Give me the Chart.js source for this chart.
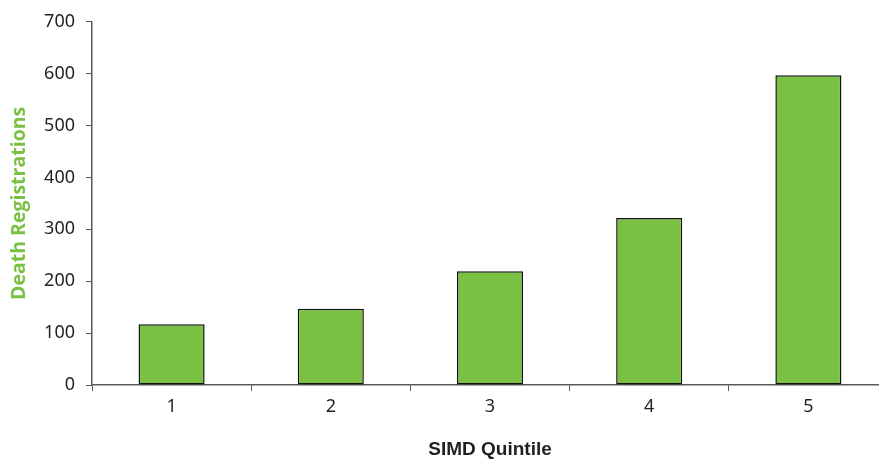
<!DOCTYPE html>
<html>
<head>
<meta charset="utf-8">
<script src="https://cdn.jsdelivr.net/npm/chart.js@4/dist/chart.umd.min.js"></script>
<style>
  html, body { margin: 0; padding: 0; background: #fff; overflow: hidden; }
  #wrap { width: 888px; height: 461px; position: relative; }
</style>
</head>
<body>
<div id="wrap"><canvas id="chart"></canvas></div>
<script>
  // Data
  const quintiles = ['1', '2', '3', '4', '5'];
  const deaths    = [117, 147, 219, 322, 597];
  const yTicks    = [0, 100, 200, 300, 400, 500, 600, 700];

  const AXIS = '#5a5a5a';
  const TEXT = '#231f20';
  const GREEN = '#7ac143';

  new Chart(document.getElementById('chart').getContext('2d'), {
    type: 'bar',
    data: {
      labels: quintiles,
      datasets: [{
        data: deaths,
        backgroundColor: GREEN,
        borderColor: '#111',
        borderWidth: 1.5,
        borderSkipped: false,
        categoryPercentage: 0.415,
        barPercentage: 1.0,
      }],
    },
    options: {
      responsive: true,
      maintainAspectRatio: false,
      animation: false,
      layout: { padding: { top: 21, right: 0, left: 0, bottom: 0 } },
      plugins: { legend: { display: false }, tooltip: { enabled: false } },
      scales: {
        x: {
          offset: true,
          grid: {
            offset: true,
            drawOnChartArea: false,
            drawTicks: true,
            tickLength: 6,
            color: AXIS,
            lineWidth: 1,
          },
          border: { color: AXIS, width: 1.5 },
          ticks: { color: TEXT, font: { family: 'Noto Sans', size: 18 }, padding: 5 },
          title: {
            display: true,
            text: 'SIMD Quintile',
            color: TEXT,
            font: { family: 'Liberation Sans', size: 19, weight: 'bold' },
            padding: { top: 14, bottom: 0 },
          },
          afterFit: function(s) { s.height = 76; },
        },
        y: {
          min: 0,
          max: 700,
          afterBuildTicks: function(s) { s.ticks = yTicks.map(function(v) { return { value: v }; }); },
          grid: {
            drawOnChartArea: false,
            drawTicks: true,
            tickLength: 6,
            color: AXIS,
            lineWidth: 1,
          },
          border: { color: AXIS, width: 1.5 },
          ticks: { color: TEXT, font: { family: 'Noto Sans', size: 18 }, padding: 11 },
          title: {
            display: true,
            text: 'Death Registrations',
            color: GREEN,
            font: { family: 'Open Sans', size: 19.5, weight: 'bold' },
            padding: { top: 8, bottom: 0 },
          },
          afterFit: function(s) { s.width = 92; },
        },
      },
    },
  });
</script>
</body>
</html>
